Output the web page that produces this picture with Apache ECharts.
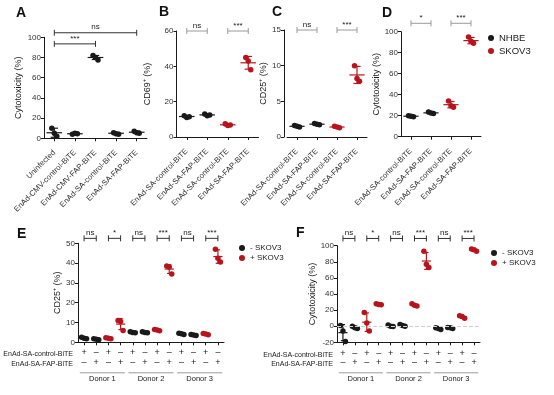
<!DOCTYPE html>
<html><head><meta charset="utf-8">
<script src="https://cdn.jsdelivr.net/npm/echarts/dist/echarts.min.js"></script>
<style>html,body{margin:0;padding:0;background:#fff}#c{width:554px;height:395px}</style>
</head><body><div id="c"></div>
<script>
// ---------------- DATA ----------------
// Panel A
const aCategories = ['Uninfected','EnAd-CMV-control-BiTE','EnAd-CMV-FAP-BiTE','EnAd-SA-control-BiTE','EnAd-SA-FAP-BiTE'];
const aPoints = [[10,5,2],[4,5,4.5],[82,80,77.5],[5.5,4.5,4],[7,5.5,5]];
const aMean = [5.5,4.5,80,5,6];
const aSd = [4.5,0.5,2,0.8,1.2];
const aRed = [0,0,0,0,0];
const aSig = [[0,4,104.5],[0,2,93.5]];
const aSigLabels = ['ns','***'];
const aYTicks = [0,20,40,60,80,100];
// Panel B
const bCategories = ['EnAd-SA-control-BiTE','EnAd-SA-FAP-BiTE','EnAd-SA-control-BiTE','EnAd-SA-FAP-BiTE'];
const bPoints = [[12,11,11.5],[13,12,12.5],[7.5,6.5,6.8],[45,43,38]];
const bMean = [11.6,12.5,6.9,42];
const bSd = [0.5,0.5,0.5,3.6];
const bRed = [0,0,1,1];
const bSig = [[0,1,60],[2,3,60]];
const bSigLabels = ['ns','***'];
const bYTicks = [0,20,40,60];
// Panel C
const cCategories = ['EnAd-SA-control-BiTE','EnAd-SA-FAP-BiTE','EnAd-SA-control-BiTE','EnAd-SA-FAP-BiTE'];
const cPoints = [[1.6,1.5,1.4],[1.9,1.8,1.7],[1.5,1.4,1.3],[10,8.2,7.8]];
const cMean = [1.5,1.8,1.4,8.7];
const cSd = [0.1,0.1,0.1,1.2];
const cRed = [0,0,1,1];
const cSig = [[0,1,15],[2,3,15]];
const cSigLabels = ['ns','***'];
const cYTicks = [0,5,10,15];
// Panel D
const dCategories = ['EnAd-SA-control-BiTE','EnAd-SA-FAP-BiTE','EnAd-SA-control-BiTE','EnAd-SA-FAP-BiTE'];
const dPoints = [[20,19.5,19],[23.5,22.5,22],[34,29.5,28],[95,91,89]];
const dMean = [19.5,22.7,30.5,91.5];
const dSd = [0.5,0.8,3,3];
const dRed = [0,0,1,1];
const dSig = [[0,1,108],[2,3,108]];
const dSigLabels = ['*','***'];
const dYTicks = [0,20,40,60,80,100];
const dLegend = ['NHBE','SKOV3'];
// Panels E / F shared rows
const controlRow = ['+','–','+','–','+','–','+','–','+','–','+','–'];
const fapRow = ['–','+','–','+','–','+','–','+','–','+','–','+'];
const rowNames = ['EnAd-SA-control-BiTE','EnAd-SA-FAP-BiTE'];
const donors = [[0,3],[4,7],[8,11]];
const donorLabels = ['Donor 1','Donor 2','Donor 3'];
const efLegend = ['- SKOV3','+ SKOV3'];
const efRed = [0,0,1,1,0,0,1,1,0,0,1,1];
const efSigLabels = ['ns','*','ns','***','ns','***'];
// Panel E
const ePoints = [[2.5,2,1.8],[1.8,1.5,1.3],[2.3,2,1.8],[11,10.5,6],[5.3,5,4.8],[5.3,5,4.8],[6.5,6.2,5.8],[38.5,38,34.5],[4.6,4.3,4],[4,3.7,3.4],[4.5,4.2,3.8],[47,42.5,40.5]];
const eMean = [2.1,1.5,2,9.2,5,5,6.2,37,4.3,3.7,4.2,43.3];
const eSd = [0.4,0.3,0.3,2.8,0.3,0.3,0.4,2.2,0.3,0.3,0.4,3.4];
const eSig = [[0,1,52.5],[2,3,52.5],[4,5,52.5],[6,7,52.5],[8,9,52.5],[10,11,52.5]];
const eYTicks = [0,10,20,30,40,50];
// Panel F
const fPoints = [[1,-6,-19],[0,-2,-3],[17,4,-6],[28,27,26.5],[1.5,0,-0.5],[2,1,0],[28,26,25],[93,77,73],[-2,-3,-4],[-1.5,-2,-3],[13,12,10],[96,95,93]];
const fMean = [-8,-1.7,5,27.2,0.3,1,26.3,81,-3,-2.2,11.7,94.7];
const fSd = [10,1.5,11.5,0.8,1,1,1.5,10.5,1,0.8,1.5,1.5];
const fSig = [[0,1,109],[2,3,109],[4,5,109],[6,7,109],[8,9,109],[10,11,109]];
const fYTicks = [-20,0,20,40,60,80,100];

// ---------------- STYLE / LAYOUT ----------------
const FONT = '"Liberation Sans", Arial, sans-serif';
const INK = '#1a1a1a', RED = '#b8141c', GREY = '#9a9a9a';
const JITTER = [-2.5, 0, 2.5];

const grids = [
  {left:44, top:37.3, width:103, height:101},
  {left:176.5, top:31, width:82, height:106},
  {left:287, top:30, width:80, height:107},
  {left:401, top:31.7, width:80, height:105},
  {left:78, top:243.3, width:146, height:99},
  {left:337, top:245.7, width:143, height:96.6}
];

const xAxes = [], yAxes = [], series = [];

function yAxisFor(gi, ticks, name, gap, off) {
  return {gridIndex:gi, type:'value', min:ticks[0], max:ticks[ticks.length-1], interval:ticks[1]-ticks[0],
    offset: off || 0,
    axisLine:{show:true, onZero:false, lineStyle:{color:INK, width:1}},
    axisTick:{show:true, length:3, lineStyle:{color:INK}},
    axisLabel:{fontSize:8, margin:3, color:'#333', fontFamily:FONT},
    splitLine:{show:false},
    name:name, nameLocation:'middle', nameGap:gap,
    nameTextStyle:{fontSize:9, color:INK, fontFamily:FONT}};
}
function xAxisFor(gi, cats, showLabels) {
  return {gridIndex:gi, type:'category', data:cats, boundaryGap:true,
    axisLine:{show:true, onZero:false, lineStyle:{color:INK, width:1}},
    axisTick:{show:true, alignWithLabel:true, length:3, lineStyle:{color:INK}},
    axisLabel:{show:showLabels, rotate:45, interval:0, fontSize:7.8, margin:13, color:'#333', fontFamily:FONT},
    splitLine:{show:false}};
}

function addPanel(gi, points, mean, sd, red, sig, sigLabels, names, sigColor, zeroLine) {
  const blk = [], rd = [];
  points.forEach((grp, i) => grp.forEach((v, j) => {
    (red[i] ? rd : blk).push({value:[i, v], symbolOffset:[JITTER[j], 0]});
  }));
  const sBlack = {type:'scatter', name:names[0], xAxisIndex:gi, yAxisIndex:gi, data:blk,
    symbol:'circle', symbolSize:5.5, itemStyle:{color:INK, opacity:1}, z:2, silent:true};
  if (zeroLine) {
    sBlack.markLine = {silent:true, symbol:'none', label:{show:false},
      lineStyle:{type:'dashed', color:'#d0d0d0', width:1}, data:[{yAxis:0}]};
  }
  series.push(sBlack);
  if (rd.length) series.push({type:'scatter', name:names[1], xAxisIndex:gi, yAxisIndex:gi, data:rd,
    symbol:'circle', symbolSize:5.5, itemStyle:{color:RED, opacity:1}, z:2, silent:true});
  series.push({type:'custom', xAxisIndex:gi, yAxisIndex:gi, clip:false, silent:true, z:3,
    data: mean.map((m, i) => [i, m, sd[i], red[i]]), encode:{x:0, y:1},
    renderItem(params, api) {
      const i = api.value(0), m = api.value(1), s = api.value(2);
      const col = api.value(3) ? RED : INK;
      const c = api.coord([i, m]), t = api.coord([i, m + s]), b = api.coord([i, m - s]);
      const bw = api.size([1, 0])[0];
      const hw = bw * 0.38, cw = bw * 0.18;
      const st = {stroke:col, lineWidth:1.2};
      return {type:'group', children:[
        {type:'line', shape:{x1:c[0]-hw, y1:c[1], x2:c[0]+hw, y2:c[1]}, style:st},
        {type:'line', shape:{x1:c[0], y1:t[1], x2:c[0], y2:b[1]}, style:st},
        {type:'line', shape:{x1:c[0]-cw, y1:t[1], x2:c[0]+cw, y2:t[1]}, style:st},
        {type:'line', shape:{x1:c[0]-cw, y1:b[1], x2:c[0]+cw, y2:b[1]}, style:st}
      ]};
    }});
  series.push({type:'custom', xAxisIndex:gi, yAxisIndex:gi, clip:false, silent:true, z:4,
    data: sig, encode:{x:[0,1], y:2},
    renderItem(params, api) {
      const p1 = api.coord([api.value(0), api.value(2)]);
      const p2 = api.coord([api.value(1), api.value(2)]);
      const st = {stroke:sigColor, lineWidth:1};
      return {type:'group', children:[
        {type:'line', shape:{x1:p1[0], y1:p1[1], x2:p2[0], y2:p2[1]}, style:st},
        {type:'line', shape:{x1:p1[0], y1:p1[1]-3, x2:p1[0], y2:p1[1]+3}, style:st},
        {type:'line', shape:{x1:p2[0], y1:p2[1]-3, x2:p2[0], y2:p2[1]+3}, style:st},
        {type:'text', x:(p1[0]+p2[0])/2, y:p1[1]-1.5, style:{text:sigLabels[params.dataIndex],
          align:'center', verticalAlign:'bottom', fontSize:8, fontFamily:FONT, fill:INK}}
      ]};
    }});
}

function addDonors(gi, yMin) {
  series.push({type:'custom', xAxisIndex:gi, yAxisIndex:gi, clip:false, silent:true,
    data: donors, encode:{x:[0,1]},
    renderItem(params, api) {
      const s = api.coord([api.value(0), yMin]), e = api.coord([api.value(1), yMin]);
      const bw = api.size([1, 0])[0];
      const y = s[1] + 30.5;
      return {type:'group', children:[
        {type:'line', shape:{x1:s[0]-bw*0.35, y1:y, x2:e[0]+bw*0.35, y2:y}, style:{stroke:'#9a9a9a', lineWidth:1}},
        {type:'text', x:(s[0]+e[0])/2, y:y+2, style:{text:donorLabels[params.dataIndex],
          align:'center', verticalAlign:'top', fontSize:7.5, fontFamily:FONT, fill:INK}}
      ]};
    }});
}

// A-D
xAxes.push(xAxisFor(0, aCategories, true));
xAxes.push(xAxisFor(1, bCategories, true));
xAxes.push(xAxisFor(2, cCategories, true));
xAxes.push(xAxisFor(3, dCategories, true));
xAxes.push(xAxisFor(4, controlRow, false));
xAxes.push(xAxisFor(5, controlRow, false));
yAxes.push(yAxisFor(0, aYTicks, 'Cytotoxicity (%)', 21));
yAxes.push(yAxisFor(1, bYTicks, 'CD69⁺ (%)', 24));
yAxes.push(yAxisFor(2, cYTicks, 'CD25⁺ (%)', 13, 3));
yAxes.push(yAxisFor(3, dYTicks, 'Cytotoxicity (%)', 20));
yAxes.push(yAxisFor(4, eYTicks, 'CD25⁺ (%)', 16));
yAxes.push(yAxisFor(5, fYTicks, 'Cytotoxicity (%)', 18));

// +/- rows for E, F
function rowAxis(gi, data, offset, margin) {
  return {gridIndex:gi, type:'category', data:data, position:'bottom', offset:offset,
    axisLine:{show:false, onZero:false}, axisTick:{show:false}, splitLine:{show:false},
    axisLabel:{interval:0, fontSize:9, margin:margin, color:INK, fontFamily:FONT}};
}
xAxes.push(rowAxis(4, controlRow, 0, 6));
xAxes.push(rowAxis(4, fapRow, 10, 6));
xAxes.push(rowAxis(5, controlRow, 0, 7));
xAxes.push(rowAxis(5, fapRow, 9, 7));

addPanel(0, aPoints, aMean, aSd, aRed, aSig, aSigLabels, ['Panel A', 'Panel A red'], '#333');
addPanel(1, bPoints, bMean, bSd, bRed, bSig, bSigLabels, dLegend, GREY);
addPanel(2, cPoints, cMean, cSd, cRed, cSig, cSigLabels, dLegend, GREY);
addPanel(3, dPoints, dMean, dSd, dRed, dSig, dSigLabels, dLegend, GREY);
addPanel(4, ePoints, eMean, eSd, efRed, eSig, efSigLabels, efLegend, '#333');
addPanel(5, fPoints, fMean, fSd, efRed, fSig, efSigLabels, efLegend, '#333', true);
addDonors(4, eYTicks[0]);
addDonors(5, fYTicks[0]);

const letter = (t, l, tp) => ({text:t, left:l, top:tp, padding:0,
  textStyle:{fontSize:14, fontWeight:'bold', color:'#111', fontFamily:FONT}});

const rowText = (x, y, t) => ({type:'text', x:x, y:y, silent:true,
  style:{text:t, align:'right', verticalAlign:'middle', fontSize:7, fill:INK, fontFamily:FONT}});

const legendBase = {orient:'vertical', icon:'circle', itemWidth:6, itemHeight:6, selectedMode:false};

const option = {
  animation:false,
  backgroundColor:'#fff',
  title:[letter('A',16,6), letter('B',159,5), letter('C',272,5), letter('D',382,6), letter('E',17,227), letter('F',296,226)],
  grid: grids.map(g => Object.assign({containLabel:false, outerBoundsMode:'none'}, g)),
  xAxis: xAxes,
  yAxis: yAxes,
  legend:[
    Object.assign({data:dLegend, left:483, top:28, itemGap:3, textStyle:{fontSize:9.5, color:INK, fontFamily:FONT}}, legendBase),
    Object.assign({data:efLegend, left:234, top:239, itemGap:2, textStyle:{fontSize:8, color:INK, fontFamily:FONT}}, legendBase),
    Object.assign({data:efLegend, left:486, top:244, itemGap:2, textStyle:{fontSize:8, color:INK, fontFamily:FONT}}, legendBase)
  ],
  graphic:[
    rowText(73, 354, rowNames[0]), rowText(73, 364, rowNames[1]),
    rowText(333, 355, rowNames[0]), rowText(333, 364, rowNames[1])
  ],
  series: series
};

const chart = echarts.init(document.getElementById('c'), null, {renderer:'canvas'});
chart.setOption(option);
</script></body></html>
